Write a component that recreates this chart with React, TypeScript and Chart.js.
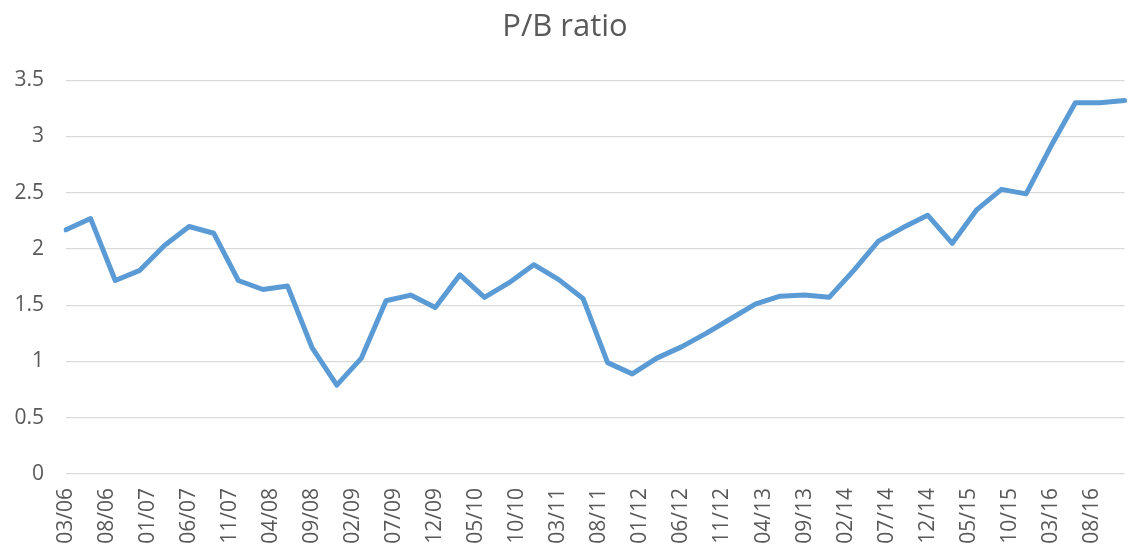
import React, { useEffect, useRef } from "react";
import { Chart, registerables } from "chart.js";

Chart.register(...registerables);

// Quarterly observation dates (MM/YY)
const quarterDates: string[] = [
  "03/06", "06/06", "09/06", "12/06",
  "03/07", "06/07", "09/07", "12/07",
  "03/08", "06/08", "09/08", "12/08",
  "03/09", "06/09", "09/09", "12/09",
  "03/10", "06/10", "09/10", "12/10",
  "03/11", "06/11", "09/11", "12/11",
  "03/12", "06/12", "09/12", "12/12",
  "03/13", "06/13", "09/13", "12/13",
  "03/14", "06/14", "09/14", "12/14",
  "03/15", "06/15", "09/15", "12/15",
  "03/16", "06/16", "09/16", "12/16",
];

// P/B ratio values, one per quarter
const pbValues: number[] = [
  2.17, 2.27, 1.72, 1.81,
  2.03, 2.2, 2.14, 1.72,
  1.64, 1.67, 1.12, 0.79,
  1.03, 1.54, 1.59, 1.48,
  1.77, 1.57, 1.7, 1.86,
  1.73, 1.56, 0.99, 0.89,
  1.03, 1.13, 1.25, 1.38,
  1.51, 1.58, 1.59, 1.57,
  1.81, 2.07, 2.19, 2.3,
  2.05, 2.35, 2.53, 2.49,
  2.91, 3.3, 3.3, 3.32,
];

// Axis tick labels shown (every 5 months)
const tickLabels: string[] = [
  "03/06", "08/06", "01/07", "06/07", "11/07", "04/08", "09/08", "02/09",
  "07/09", "12/09", "05/10", "10/10", "03/11", "08/11", "01/12", "06/12",
  "11/12", "04/13", "09/13", "02/14", "07/14", "12/14", "05/15", "10/15",
  "03/16", "08/16",
];

const yTicks: number[] = [0, 0.5, 1, 1.5, 2, 2.5, 3, 3.5];

// Monthly date axis from 03/06 to 12/16
const axisMonths: string[] = (() => {
  const out: string[] = [];
  let y = 2006;
  let m = 3;
  while (y < 2016 || (y === 2016 && m <= 12)) {
    out.push(String(m).padStart(2, "0") + "/" + String(y % 100).padStart(2, "0"));
    m++;
    if (m > 12) {
      m = 1;
      y++;
    }
  }
  return out;
})();

export default function App() {
  const ref = useRef<HTMLCanvasElement | null>(null);

  useEffect(() => {
    if (!ref.current) return;
    const monthly = axisMonths.map((lab) => {
      const i = quarterDates.indexOf(lab);
      return i >= 0 ? pbValues[i] : null;
    });
    const font = "'Open Sans', 'Noto Sans', sans-serif";
    const chart = new Chart(ref.current, {
      type: "line",
      data: {
        labels: axisMonths,
        datasets: [
          {
            label: "P/B ratio",
            data: monthly,
            spanGaps: true,
            borderColor: "#5b9bd5",
            backgroundColor: "#5b9bd5",
            borderWidth: 5,
            pointRadius: 0,
            pointHoverRadius: 0,
            tension: 0,
            borderJoinStyle: "round",
            borderCapStyle: "round",
            fill: false,
          },
        ],
      },
      options: {
        animation: false,
        responsive: true,
        maintainAspectRatio: false,
        layout: { padding: { left: 0, right: 1, top: 0, bottom: 0 } },
        plugins: {
          legend: { display: false },
          tooltip: { enabled: false },
          title: {
            display: true,
            text: "P/B ratio",
            color: "#595959",
            font: { family: font, size: 31, weight: "normal" },
            padding: { top: 9, bottom: 34 },
          },
        },
        scales: {
          x: {
            type: "category",
            offset: false,
            grid: { display: false, drawTicks: false },
            border: { display: false },
            afterFit: (axis: any) => {
              axis.height = 80;
            },
            ticks: {
              autoSkip: false,
              maxRotation: 90,
              minRotation: 90,
              padding: 14,
              color: "#595959",
              font: { family: font, size: 21 },
              callback: function (_v: any, index: number) {
                const lab = axisMonths[index];
                return tickLabels.includes(lab) ? lab : null;
              },
            },
          },
          y: {
            min: yTicks[0],
            max: yTicks[yTicks.length - 1],
            grid: { color: "#d9d9d9", lineWidth: 1.3, drawTicks: false },
            border: { display: false },
            afterFit: (axis: any) => {
              axis.width = 66;
            },
            afterBuildTicks: (axis: any) => {
              axis.ticks = yTicks.map((v) => ({ value: v }));
            },
            ticks: {
              padding: 22,
              color: "#595959",
              font: { family: font, size: 21 },
              callback: (v: any) => String(v),
            },
          },
        },
      },
    });
    return () => chart.destroy();
  }, []);

  return (
    <div style={{ position: "absolute", left: 0, top: 0, width: 1131, height: 554, background: "#fff" }}>
      <canvas ref={ref} />
    </div>
  );
}
